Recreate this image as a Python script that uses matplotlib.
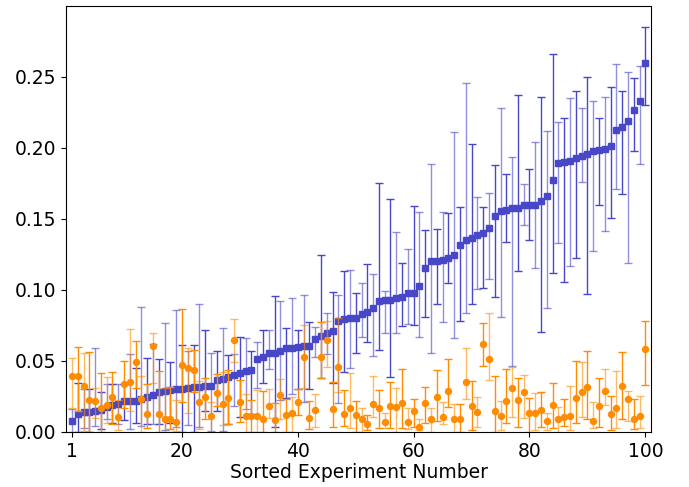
import matplotlib
matplotlib.use("Agg")
import matplotlib.pyplot as plt
import numpy as np

# sorted experiment index
experiment = np.arange(1, 101)

blue_vals = [
    0.008, 0.0125, 0.014, 0.014, 0.0148, 0.0155, 0.0174, 0.019, 0.0195, 0.0218,
    0.0218, 0.0218, 0.0235, 0.0249, 0.026, 0.028, 0.029, 0.0296, 0.030, 0.030,
    0.031, 0.032, 0.032, 0.0324, 0.0324, 0.0366, 0.0373, 0.0387, 0.0404, 0.0413,
    0.0427, 0.0437, 0.0514, 0.053, 0.0554, 0.0559, 0.0568, 0.0594, 0.0594, 0.0596,
    0.0606, 0.0608, 0.0655, 0.0678, 0.0695, 0.0713, 0.0784, 0.0796, 0.080, 0.080,
    0.0829, 0.0843, 0.0871, 0.0923, 0.093, 0.093, 0.0941, 0.0951, 0.0977, 0.098,
    0.103, 0.1153, 0.1202, 0.1204, 0.1209, 0.1228, 0.1244, 0.1317, 0.1352, 0.1364,
    0.1385, 0.1404, 0.1437, 0.1521, 0.1559, 0.1563, 0.1575, 0.1577, 0.1601, 0.1601,
    0.1601, 0.1629, 0.1662, 0.1775, 0.1897, 0.1899, 0.1906, 0.1927, 0.1944, 0.1958,
    0.1981, 0.1984, 0.1991, 0.2014, 0.2127, 0.215, 0.2188, 0.2268, 0.2331, 0.2601,
]
blue_hi = [
    0.016, 0.0347, 0.030, 0.030, 0.059, 0.028, 0.0336, 0.0336, 0.034, 0.034,
    0.0547, 0.0448, 0.0878, 0.0523, 0.062, 0.0516, 0.0765, 0.0495, 0.0859, 0.061,
    0.057, 0.0615, 0.090, 0.0718, 0.0554, 0.057, 0.073, 0.054, 0.055, 0.067,
    0.066, 0.057, 0.063, 0.0718, 0.0718, 0.0958, 0.0925, 0.0735, 0.0941, 0.0718,
    0.0965, 0.0777, 0.0742, 0.1246, 0.0836, 0.0988, 0.0965, 0.1136, 0.114, 0.0977,
    0.1052, 0.1183, 0.1113, 0.1756, 0.0995, 0.1639, 0.141, 0.1192, 0.1286, 0.159,
    0.155, 0.1423, 0.1885, 0.1432, 0.155, 0.1545, 0.2115, 0.1587, 0.2455, 0.2028,
    0.1653, 0.1587, 0.1685, 0.1876, 0.228, 0.1817, 0.1934, 0.2373, 0.1744, 0.1852,
    0.204, 0.2361, 0.212, 0.266, 0.2185, 0.2213, 0.235, 0.2397, 0.228, 0.2502,
    0.2333, 0.2209, 0.2359, 0.2432, 0.2592, 0.2404, 0.2537, 0.2495, 0.2577, 0.2854,
]
blue_lo = [
    0.0, 0.0, 0.0026, 0.0, 0.004, 0.002, 0.0094, 0.0066, 0.0056, 0.0086,
    0.002, 0.006, 0.0045, 0.0056, 0.0056, 0.0056, 0.0014, 0.006, 0.0035, 0.0,
    0.005, 0.0, 0.0035, 0.015, 0.001, 0.0148, 0.001, 0.0056, 0.018, 0.0108,
    0.0164, 0.013, 0.031, 0.0347, 0.0441, 0.0035, 0.0225, 0.0237, 0.0268, 0.030,
    0.0214, 0.030, 0.0526, 0.0382, 0.055, 0.0343, 0.0206, 0.0425, 0.0448, 0.0559,
    0.067, 0.0636, 0.0535, 0.0577, 0.0695, 0.039, 0.070, 0.0746, 0.0758, 0.0754,
    0.067, 0.0812, 0.0554, 0.0899, 0.0772, 0.1052, 0.066, 0.0784, 0.0836, 0.0899,
    0.1007, 0.1016, 0.1075, 0.0948, 0.0812, 0.134, 0.0465, 0.1136, 0.1458, 0.1352,
    0.1157, 0.0706, 0.0871, 0.1118, 0.1333, 0.1054, 0.1169, 0.1223, 0.1763, 0.0972,
    0.1277, 0.1601, 0.1415, 0.1507, 0.1709, 0.1674, 0.1192, 0.1979, 0.1889, 0.2303,
]

orange_vals = [
    0.0397, 0.0397, 0.0324, 0.0225, 0.0218, 0.0167, 0.0188, 0.0244, 0.0106, 0.0338,
    0.0352, 0.0495, 0.0235, 0.0125, 0.0606, 0.0125, 0.009, 0.0092, 0.0073, 0.0472,
    0.0453, 0.0437, 0.0211, 0.0244, 0.0113, 0.0277, 0.0197, 0.0237, 0.0648, 0.0214,
    0.0113, 0.011, 0.0113, 0.009, 0.0183, 0.0085, 0.026, 0.012, 0.0136, 0.0209,
    0.0526, 0.0099, 0.0153, 0.053, 0.0648, 0.0164, 0.0455, 0.0125, 0.0171, 0.0118,
    0.0092, 0.0054, 0.0195, 0.0167, 0.007, 0.0183, 0.0176, 0.0202, 0.0068, 0.015,
    0.0038, 0.0206, 0.0094, 0.0246, 0.0108, 0.0287, 0.0094, 0.0094, 0.0352, 0.0183,
    0.0143, 0.062, 0.0512, 0.0148, 0.0113, 0.0218, 0.0308, 0.0225, 0.0284, 0.0131,
    0.0131, 0.0157, 0.0077, 0.0188, 0.0092, 0.0103, 0.0113, 0.0242, 0.0282, 0.0319,
    0.0077, 0.0181, 0.0291, 0.0125, 0.0167, 0.0324, 0.023, 0.009, 0.011, 0.0585,
]
orange_hi = [
    0.0523, 0.060, 0.0554, 0.056, 0.031, 0.0418, 0.039, 0.0425, 0.0225, 0.050,
    0.0723, 0.064, 0.0397, 0.0336, 0.070, 0.0432, 0.031, 0.032, 0.0225, 0.0864,
    0.059, 0.058, 0.036, 0.0378, 0.0214, 0.0408, 0.0425, 0.0437, 0.0796, 0.0366,
    0.0265, 0.0225, 0.0296, 0.029, 0.030, 0.0202, 0.0373, 0.0232, 0.0244, 0.030,
    0.0756, 0.022, 0.0265, 0.0777, 0.0784, 0.0354, 0.080, 0.0296, 0.0413, 0.022,
    0.0171, 0.012, 0.0394, 0.0296, 0.0131, 0.0354, 0.031, 0.0444, 0.0171, 0.023,
    0.009, 0.032, 0.0171, 0.0437, 0.0214, 0.0516, 0.0197, 0.0195, 0.0589, 0.0361,
    0.0249, 0.0765, 0.0836, 0.0397, 0.022, 0.0441, 0.046, 0.0383, 0.040, 0.0242,
    0.0272, 0.0284, 0.0131, 0.0343, 0.0178, 0.023, 0.0324, 0.0502, 0.0495, 0.057,
    0.0214, 0.0378, 0.0441, 0.0256, 0.0432, 0.0566, 0.0289, 0.0232, 0.0254, 0.0784,
]
orange_lo = [
    0.017, 0.0148, 0.001, 0.0, 0.0096, 0.0, 0.006, 0.0056, 0.0014, 0.017,
    0.0146, 0.031, 0.0, 0.003, 0.0347, 0.0, 0.0, 0.002, 0.001, 0.0214,
    0.0136, 0.0284, 0.002, 0.009, 0.0, 0.018, 0.005, 0.0056, 0.0495, 0.0073,
    0.0, 0.0, 0.0, 0.0, 0.0096, 0.0, 0.009, 0.0, 0.0, 0.012,
    0.0308, 0.002, 0.0033, 0.0383, 0.0455, 0.0038, 0.0284, 0.004, 0.0026, 0.0,
    0.0, 0.0014, 0.0103, 0.0026, 0.003, 0.003, 0.0, 0.003, 0.002, 0.0038,
    0.0014, 0.006, 0.0, 0.008, 0.0056, 0.0174, 0.0, 0.0, 0.0232, 0.0014,
    0.0038, 0.0467, 0.0366, 0.0, 0.0014, 0.006, 0.0108, 0.0038, 0.0096, 0.0,
    0.0014, 0.0038, 0.0014, 0.0026, 0.0, 0.004, 0.0014, 0.0066, 0.0108, 0.009,
    0.0026, 0.0038, 0.019, 0.0014, 0.003, 0.009, 0.008, 0.002, 0.003, 0.0331,
]

BLUE = "#4747c8"
ORANGE = "#ff8c00"


def draw_series(ax, vals, lo, hi, color, marker):
    vals = np.asarray(vals)
    yerr = np.vstack([vals - np.asarray(lo), np.asarray(hi) - vals])
    # alternate light / dark error bars like the original
    for start, alpha in [(0, 0.6), (1, 1.0)]:
        idx = slice(start, None, 2)
        ax.errorbar(experiment[idx], vals[idx], yerr=yerr[:, idx], fmt="none",
                    ecolor=color, elinewidth=1.0, capsize=3, capthick=1.0, alpha=alpha)
    ax.plot(experiment, vals, linestyle="none", marker=marker, color=color, markersize=4.3)


fig = plt.figure(figsize=(6.89, 4.87), dpi=100)
ax = fig.add_axes([0.096, 0.113, 0.849, 0.875])

draw_series(ax, blue_vals, blue_lo, blue_hi, BLUE, "s")
draw_series(ax, orange_vals, orange_lo, orange_hi, ORANGE, "o")

ax.set_xlim(0, 101)
ax.set_ylim(0, 0.3)
ax.set_xticks([1, 20, 40, 60, 80, 100])
ax.set_yticks([0.0, 0.05, 0.10, 0.15, 0.20, 0.25])
ax.set_yticklabels(["0.00", "0.05", "0.10", "0.15", "0.20", "0.25"])
ax.tick_params(labelsize=13.5)
ax.set_xlabel("Sorted Experiment Number", fontsize=13.5, labelpad=2)

fig.savefig("out.png", dpi=100)
